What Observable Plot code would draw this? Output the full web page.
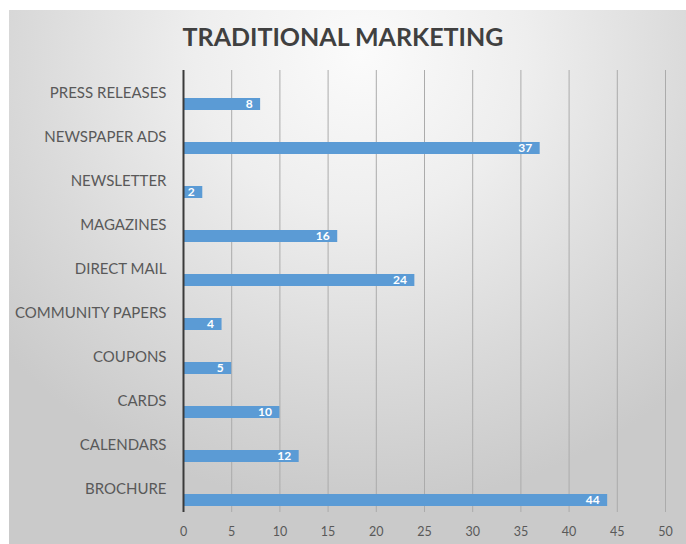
<!DOCTYPE html>
<html>
<head>
<meta charset="utf-8">
<script src="https://cdn.jsdelivr.net/npm/d3@7"></script>
<script src="https://cdn.jsdelivr.net/npm/@observablehq/plot@0.6"></script>
<style>
  html, body { margin: 0; padding: 0; background: #ffffff; }
  #wrap { position: relative; width: 686px; height: 544px; overflow: hidden; font-family: Lato, "Open Sans", sans-serif; }
  #panel { position: absolute; left: 9px; top: 10px; width: 677px; height: 534px;
    background: radial-gradient(ellipse 70% 85% at 52% 8%, #fbfbfb 0%, #eeeeee 35%, #dadada 70%, #cacaca 100%); }
  #title { position: absolute; left: 0; top: 0; width: 686px; height: 60px; line-height: 72px; text-align: center;
    font-weight: bold; font-size: 25px; color: #404040; }
  #chart { position: absolute; left: 0; top: 60px; }
  #chart svg { background: transparent !important; }
</style>
</head>
<body>
<div id="wrap">
  <div id="panel"></div>
  <div id="title">TRADITIONAL MARKETING</div>
  <div id="chart"></div>
</div>
<script>
const categories = ["PRESS RELEASES", "NEWSPAPER ADS", "NEWSLETTER", "MAGAZINES", "DIRECT MAIL",
  "COMMUNITY PAPERS", "COUPONS", "CARDS", "CALENDARS", "BROCHURE"];
const values = [8, 37, 2, 16, 24, 4, 5, 10, 12, 44];
const xTicks = [0, 5, 10, 15, 20, 25, 30, 35, 40, 45, 50];

const data = categories.map((c, i) => ({cat: c, value: values[i]}));

const chart = Plot.plot({
  width: 686,
  height: 484,
  marginLeft: 183,
  marginRight: 21,
  marginTop: 10,
  marginBottom: 32,
  style: {background: "transparent", fontFamily: "Lato, 'Open Sans', sans-serif"},
  x: {domain: [0, 50], axis: null},
  y: {domain: categories, padding: 0, axis: null},
  marks: [
    Plot.ruleX(xTicks.filter(d => d > 0), {stroke: "#ababab", strokeWidth: 1}),
    Plot.barX(data, {x: "value", y: "cat", fill: "#5b9bd5", insetTop: 27, insetBottom: 5}),
    Plot.ruleX([0], {stroke: "#3a3a3a", strokeWidth: 2}),
    Plot.axisX({ticks: xTicks, tickSize: 0, tickPadding: 15, fontSize: 12.5, color: "#595959", label: null, tickFormat: d => String(d)}),
    Plot.text(data, {y: "cat", text: "cat", frameAnchor: "left", textAnchor: "end", dx: -17, fontSize: 15, fill: "#595959"}),
    Plot.text(data, {x: "value", y: "cat", text: d => String(d.value), textAnchor: "end", dx: -8, dy: 11, fill: "#ffffff", fontWeight: "bold", fontSize: 12})
  ]
});
document.getElementById("chart").appendChild(chart);
</script>
</body>
</html>
